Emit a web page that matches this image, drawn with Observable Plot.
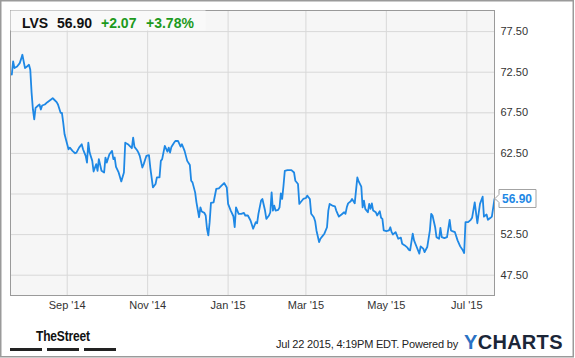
<!DOCTYPE html>
<html>
<head>
<meta charset="utf-8">
<script src="https://cdn.jsdelivr.net/npm/d3@7"></script>
<script src="https://cdn.jsdelivr.net/npm/@observablehq/plot@0.6"></script>
<style>
  html, body { margin: 0; padding: 0; background: #fff; }
  #wrap { position: relative; width: 575px; height: 358px; overflow: hidden; background: #fff;
          font-family: "Liberation Sans", Arial, sans-serif; }
  #chart { position: absolute; left: 0; top: 0; }
  #over { position: absolute; left: 0; top: 0; pointer-events: none; }
</style>
</head>
<body>
<div id="wrap">
  <div id="chart"></div>
  <svg id="over" width="575" height="358"></svg>
</div>
<script>
// ---- data ----
const ticker = "LVS";
const lastPrice = 56.90;
const change = "+2.07";
const changePct = "+3.78%";
const stamp = "Jul 22 2015, 4:19PM EDT. Powered by";
const baseDate = "2014-07-20";   // day 0 of the x domain
const endDay = 367;              // Jul 22 2015
const dayOffsets = [
  1,2,3,5,7,8,9,11,12,14,15,16,17,18,19,21,22,23,24,26,28,30,32,33,35,36,38,39,40,41,
  43,44,45,47,49,50,52,54,55,56,57,58,59,60,62,63,65,66,67,69,71,72,73,75,77,78,79,80,82,84,
  86,87,89,92,93,94,96,97,98,100,101,103,105,106,108,110,111,113,114,115,117,119,120,121,122,124,125,127,129,130,
  132,134,136,137,138,140,141,143,144,145,147,148,149,150,151,152,154,156,158,160,162,164,165,167,169,170,171,173,175,177,
  178,180,182,184,186,187,188,190,191,193,194,196,197,198,199,200,201,203,204,205,206,207,208,210,213,215,216,218,219,220,
  222,224,225,227,228,230,231,232,234,235,237,238,240,241,242,244,246,247,249,251,253,254,255,256,258,259,261,263,264,266,
  267,268,269,271,272,273,274,275,277,278,280,281,282,283,285,287,288,289,290,292,293,294,296,297,299,301,302,303,305,306,
  308,310,311,313,314,316,318,319,320,322,323,325,326,327,329,331,333,334,335,337,339,341,343,344,345,347,349,350,352,354,
  355,356,358,359,361,362,364,365,367
];
const prices = [
  72.20,73.83,73.01,73.21,73.62,74.11,74.65,73.01,73.13,73.42,72.81,69.95,67.91,66.69,68.11,68.40,68.52,67.91,68.40,68.52,68.81,69.05,69.30,69.14,68.81,68.52,67.50,67.50,66.27,64.85,
  63.63,63.01,63.21,62.81,62.52,62.60,63.21,63.63,63.01,62.60,62.19,61.37,63.82,62.60,61.58,60.27,61.18,60.36,61.79,60.36,60.15,61.99,61.37,62.40,62.81,61.79,61.99,60.85,60.15,59.05,
  60.15,63.82,63.63,63.14,64.44,63.30,62.89,62.60,62.19,60.76,61.18,62.19,62.28,60.76,58.31,58.73,59.54,59.54,61.58,61.79,63.42,62.72,63.21,62.60,63.30,63.82,64.03,64.03,63.33,63.63,
  62.81,61.58,61.06,59.13,58.93,57.70,56.48,54.64,55.86,55.34,55.18,54.85,53.22,52.40,54.03,56.40,56.48,58.12,58.19,58.52,58.85,58.31,56.28,55.46,54.76,53.41,55.86,55.06,55.06,55.18,
  54.85,54.85,54.24,53.22,54.03,53.90,55.06,56.68,56.89,55.46,54.44,54.85,55.25,57.70,55.46,56.07,55.46,55.55,55.86,57.58,56.89,58.52,60.36,60.44,60.44,60.15,59.13,58.73,56.28,56.48,
  56.89,57.01,57.30,56.89,55.06,54.64,54.15,53.01,51.58,51.99,52.40,52.61,53.41,55.46,56.28,56.07,55.99,55.46,54.72,54.97,55.25,55.06,55.86,56.35,56.60,56.89,56.35,59.54,59.05,58.40,
  55.86,56.68,55.67,55.25,56.28,55.67,56.35,55.46,55.25,54.85,55.37,54.57,54.44,53.01,52.93,53.01,53.41,52.80,52.52,52.80,52.40,51.99,52.12,51.38,51.17,50.89,50.65,50.56,52.61,51.79,
  50.97,50.16,51.05,50.77,50.35,50.97,53.01,55.06,54.85,53.41,52.19,51.99,53.34,52.19,52.07,52.19,54.32,53.01,52.93,52.80,51.79,51.05,50.56,50.23,54.03,54.03,54.32,54.57,56.48,53.90,
  55.13,56.28,57.17,54.72,54.97,54.32,54.57,54.72,56.90
];
const xTickDates = ["2014-09-01","2014-11-01","2015-01-01","2015-03-01","2015-05-01","2015-07-01"];
const xTickLabels = ["Sep '14","Nov '14","Jan '15","Mar '15","May '15","Jul '15"];
const yTicks = [47.5, 52.5, 57.5, 62.5, 67.5, 72.5, 77.5];
const yDomain = [45, 80.1];

// ---- build ----
const lineColor = "#1e88e5";
const base = new Date(baseDate + "T00:00:00Z");
const rows = dayOffsets.map((d, i) => ({date: d3.utcDay.offset(base, d), price: prices[i]}));
const xTicks = xTickDates.map(s => new Date(s + "T00:00:00Z"));
const labelOf = new Map(xTicks.map((d, i) => [+d, xTickLabels[i]]));
const lastRow = rows[rows.length - 1];

const lastLabel = (index, scales) => {
  const x0 = scales.x(lastRow.date) + 1;
  const y0 = Math.round(scales.y(lastRow.price)) + 0.5;
  const g = d3.create("svg:g");
  g.append("path")
    .attr("d", `M${x0},${y0} L${x0 + 4},${y0 - 4} V${y0 - 9} H${x0 + 41} V${y0 + 9} H${x0 + 4} V${y0 + 4} Z`)
    .attr("fill", "#fff").attr("stroke", "#a3a3a3");
  g.append("text")
    .attr("x", x0 + 7).attr("y", y0).attr("dy", "0.36em")
    .attr("text-anchor", "start")
    .attr("fill", lineColor).attr("font-weight", "bold").attr("font-size", 12)
    .attr("font-family", "'Liberation Sans', Arial, sans-serif")
    .text(lastPrice.toFixed(2));
  return g.node();
};

const chart = Plot.plot({
  width: 575,
  height: 322,
  marginLeft: 10,
  marginRight: 81,
  marginTop: 10,
  marginBottom: 27,
  style: {background: "transparent", fontFamily: "'Liberation Sans', Arial, sans-serif", fontSize: "11px", color: "#333"},
  x: {type: "utc", domain: [base, d3.utcDay.offset(base, endDay)], axis: null},
  y: {domain: yDomain, axis: null},
  marks: [
    Plot.frame({fill: "#f6f6f6", stroke: null}),
    Plot.gridX(xTicks, {stroke: "#d8d8d8", strokeOpacity: 1}),
    Plot.gridY(yTicks, {stroke: "#d8d8d8", strokeOpacity: 1}),
    Plot.lineY(rows, {x: "date", y: "price", stroke: lineColor, strokeWidth: 1.8}),
    Plot.frame({stroke: "#9a9a9a"}),
    Plot.axisY(yTicks, {anchor: "right", tickSize: 0, tickPadding: 6, label: null,
      tickFormat: d => d.toFixed(2), fill: "#333", fontSize: 11}),
    Plot.axisX(xTicks, {anchor: "bottom", tickSize: 0, tickPadding: 6, label: null,
      tickFormat: d => labelOf.get(+d), fill: "#333", fontSize: 11}),
    lastLabel
  ]
});
document.getElementById("chart").appendChild(chart);

// ---- header, footer and border overlay ----
const ov = d3.select("#over");
const font = "'Liberation Sans', Arial, sans-serif";
ov.append("rect").attr("x", 10.5).attr("y", 10.5).attr("width", 195).attr("height", 20)
  .attr("fill", "#f9f9f9");
const head = [
  {t: ticker, x: 22, c: "#111"},
  {t: lastPrice.toFixed(2), x: 57, c: "#111"},
  {t: change, x: 101, c: "#1d9a1d"},
  {t: changePct, x: 146, c: "#1d9a1d"}
];
ov.selectAll("text.h").data(head).join("text").attr("class", "h")
  .attr("x", d => d.x).attr("y", 28.3).attr("fill", d => d.c)
  .attr("font-family", font).attr("font-weight", "bold").attr("font-size", 14)
  .text(d => d.t);

// TheStreet logo
ov.append("text").attr("x", 36).attr("y", 341)
  .attr("transform", "translate(36,0) scale(0.8,1) translate(-36,0)")
  .attr("font-family", font).attr("font-weight", "bold").attr("font-size", 15)
  .attr("fill", "#111").attr("letter-spacing", -0.2).text("TheStreet");
[[10, 32], [47, 32], [84, 32]].forEach(([x, w]) =>
  ov.append("rect").attr("x", x).attr("y", 348).attr("width", w).attr("height", 3).attr("fill", "#222"));

// timestamp
ov.append("text").attr("x", 276).attr("y", 348.3)
  .attr("font-family", font).attr("font-size", 11).attr("letter-spacing", -0.2)
  .attr("fill", "#222").text(stamp);
// YCHARTS logo
const yc = ov.append("text").attr("x", 464).attr("y", 349)
  .attr("font-family", font).attr("font-weight", "bold").attr("font-size", 20)
  .attr("letter-spacing", 0.3);
yc.append("tspan").attr("fill", "#2a72c4").text("Y");
yc.append("tspan").attr("fill", "#1b2638").text("CHARTS");

// outer border
ov.append("rect").attr("x", 0.75).attr("y", 0.75).attr("width", 572.5).attr("height", 356)
  .attr("fill", "none").attr("stroke", "#9a9a9a").attr("stroke-width", 1.5);
</script>
</body>
</html>
